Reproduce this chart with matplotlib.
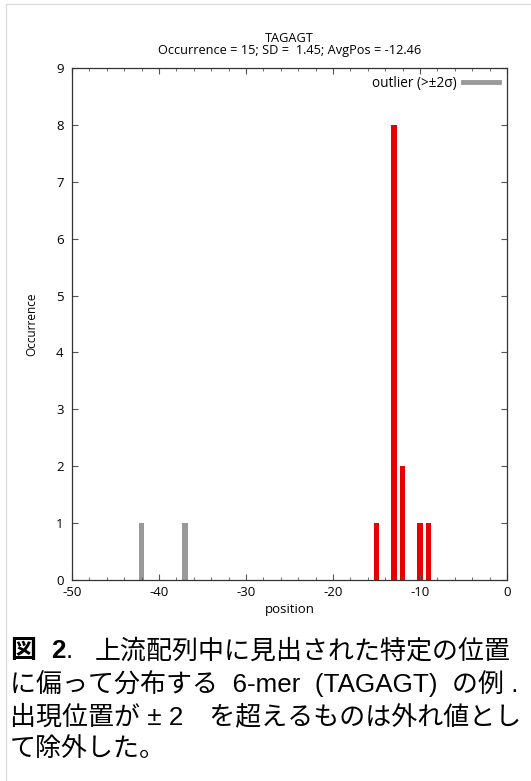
import matplotlib.pyplot as plt
from matplotlib.lines import Line2D

# occurrence of the 6-mer at each upstream position
pos_main = [-15, -13, -12, -10, -9]
cnt_main = [1, 8, 2, 1, 1]
pos_outlier = [-42, -37]
cnt_outlier = [1, 1]

title_lines = ['TAGAGT', 'Occurrence = 15; SD =  1.45; AvgPos = -12.46']
caption_head = ['図', '2', '.']
caption = [
    '上流配列中に見出された特定の位置',
    'に偏って分布する  6-mer  (TAGAGT)  の例 .',
    '出現位置が ± 2　を超えるものは外れ値とし',
    'て除外した。',
]

plt.rcParams['font.family'] = ['Open Sans', 'DejaVu Sans']
plt.rcParams['axes.unicode_minus'] = False

fig = plt.figure(figsize=(5.31, 7.81), dpi=100)
ax = fig.add_axes([72 / 531, 1 - 580 / 781, 435 / 531, 512 / 781])

ax.bar(pos_outlier, cnt_outlier, width=0.6, color='#999999')
ax.bar(pos_main, cnt_main, width=0.6, color='#e60000')

ax.set_xlim(-50, 0)
ax.set_ylim(0, 9)
ax.set_xticks(range(-50, 1, 10))
ax.set_xticks(range(-50, 1, 2), minor=True)
ax.set_yticks(range(0, 10))
ax.tick_params(which='both', direction='in', top=True, right=True,
               labelsize=9.5, color='#555555')
ax.tick_params(axis='x', pad=4)
ax.tick_params(axis='y', pad=6)
ax.tick_params(which='major', length=4)
ax.tick_params(which='minor', length=2.5)
for s in ax.spines.values():
    s.set_color('#333333')
    s.set_linewidth(0.9)

ax.set_xlabel('position', fontsize=9.5, labelpad=3)
ax.set_ylabel('Occurrence', fontsize=8.5, labelpad=13)
ax.set_title('\n'.join(title_lines), fontsize=9.2, linespacing=0.95, pad=10)

h = Line2D([], [], color='#999999', lw=3.5)
ax.legend([h], ['outlier (>±2σ)'], loc='upper right', frameon=False,
          markerfirst=False, fontsize=9.8, handlelength=2.6,
          borderaxespad=0.2, handletextpad=0.5)

# light frame around the figure
fig.add_artist(Line2D([6 / 531, 6 / 531], [0, 1 - 4 / 781], color='#dddddd', lw=1))
fig.add_artist(Line2D([6 / 531, 1], [1 - 4 / 781, 1 - 4 / 781], color='#dddddd', lw=1))

cap_font = ['Liberation Sans', 'Noto Sans CJK JP']
cap_size = 18.7
ys = [651, 684, 717, 749]
y0 = 1 - ys[0] / 781
fig.text(10 / 531, y0, caption_head[0], fontsize=cap_size, fontweight='bold',
         family=['Noto Sans CJK JP'], va='center')
fig.text(51 / 531, y0, caption_head[1], fontsize=cap_size, fontweight='bold',
         family=cap_font, va='center')
fig.text(66 / 531, y0, caption_head[2], fontsize=cap_size, family=cap_font, va='center')
for i, (t, y) in enumerate(zip(caption, ys)):
    x = 95 if i == 0 else 10
    fig.text(x / 531, 1 - y / 781, t, fontsize=cap_size, family=cap_font, va='center')

fig.savefig('out.png', dpi=100)
